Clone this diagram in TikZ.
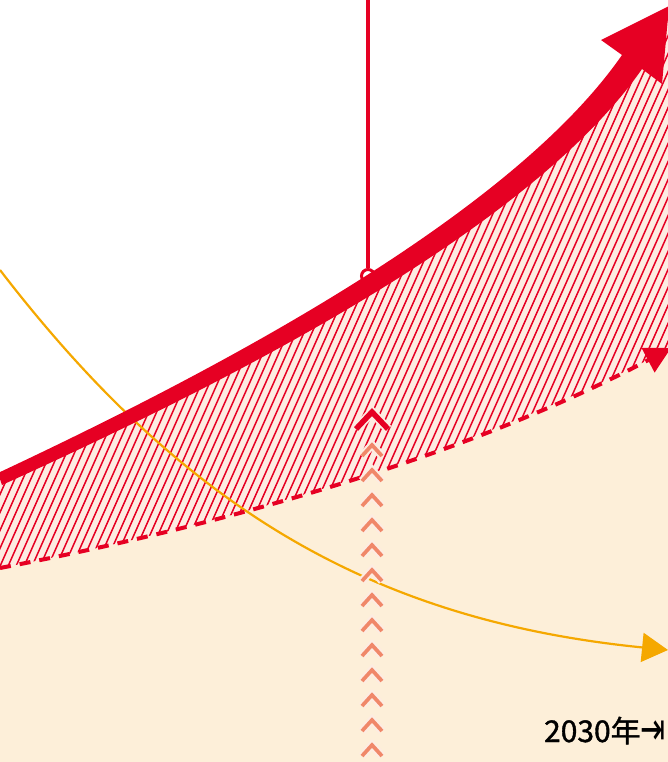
\documentclass[tikz,border=0pt]{standalone}
\usepackage{fontspec}
\usepackage{tikz}
\usetikzlibrary{arrows.meta}
\newfontfamily\jpfont[FakeBold=1.2]{Noto Sans CJK JP}
\newfontfamily\symfont{DejaVu Sans}
\definecolor{brandred}{RGB}{230,0,35}
\definecolor{salmon}{RGB}{240,135,105}
\definecolor{amber}{RGB}{245,168,0}
\definecolor{cream}{RGB}{253,239,217}
\definecolor{blush}{RGB}{253,236,226}

\begin{document}
\begin{tikzpicture}[x=1pt, y=-1pt,
  chevron/.style={salmon, line width=3.7pt},
  halo/.style={blush, line width=8pt}]
  \useasboundingbox (0,0) rectangle (668,762);
  \clip (0,0) rectangle (668,762);

  % Area below the dashed line
  \fill[cream] (0,568) .. controls (230,524) and (471,454) .. (671,348) -- (671,762) -- (0,762) -- cycle;

  % Hatched gap between the two curves
  \begin{scope}
    \clip (0,479) .. controls (210,382) and (517,226) .. (632,62) -- (680,-10) -- (680,348) -- (671,348) .. controls (471,454) and (230,524) .. (0,568) -- cycle;
    \fill[blush] (0,0) rectangle (668,762);
    \foreach \x in {-360,-352,...,680}
      \draw[brandred, line width=1.5pt] (\x,800) -- ++(356,-800);
  \end{scope}

  % Orange curve
  \coordinate (o-start) at (0,270);
  \coordinate (o-end) at (668,650);
  \draw[amber, line width=2.2pt, -{Triangle[length=26pt,width=29pt]}] (o-start) .. controls (180,504) and (368,620) .. (o-end);

  % Dashed curve
  \coordinate (b-start) at (0,568);
  \coordinate (b-end) at (671,348);
  \draw[brandred, line width=4pt, dash pattern=on 11pt off 9pt, -{Triangle[length=26pt,width=27pt]}] (b-start) .. controls (230,524) and (471,454) .. (b-end);

  % Pin from the top
  \coordinate (pin-top) at (368,0);
  \node[circle, draw=brandred, fill=white, line width=3pt, minimum size=13pt, inner sep=0pt] (pin) at (368,276) {};
  \draw[brandred, line width=4.5pt] (pin-top) -- (pin.north);

  % Main arrow, getting wider to the right
  \fill[brandred] (-2,473) .. controls (207,375) and (509,218) .. (622,55) -- (601,40) -- (669,6) -- (662,84) -- (642,69) .. controls (527,234) and (213,389) .. (2,485) -- cycle;

  % Chevrons
  \foreach \y in {445,470,...,745} {
    \draw[halo] (362,\y+11) -- (372,\y) -- (382,\y+11);
    \draw[chevron] (362,\y+11) -- (372,\y) -- (382,\y+11);
  }
  \draw[halo, line width=9pt] (356,429) -- (372,412) -- (388,429);
  \draw[brandred, line width=5.5pt] (356,429) -- (372,412) -- (388,429);

  % Year label
  \node[anchor=base east, inner sep=0pt, font=\jpfont\fontsize{30}{32}\selectfont] (year) at (666,742) {2030年{\symfont\raisebox{-2pt}{\scalebox{1.0}[1.5]{⇥}}}};
\end{tikzpicture}
\end{document}
